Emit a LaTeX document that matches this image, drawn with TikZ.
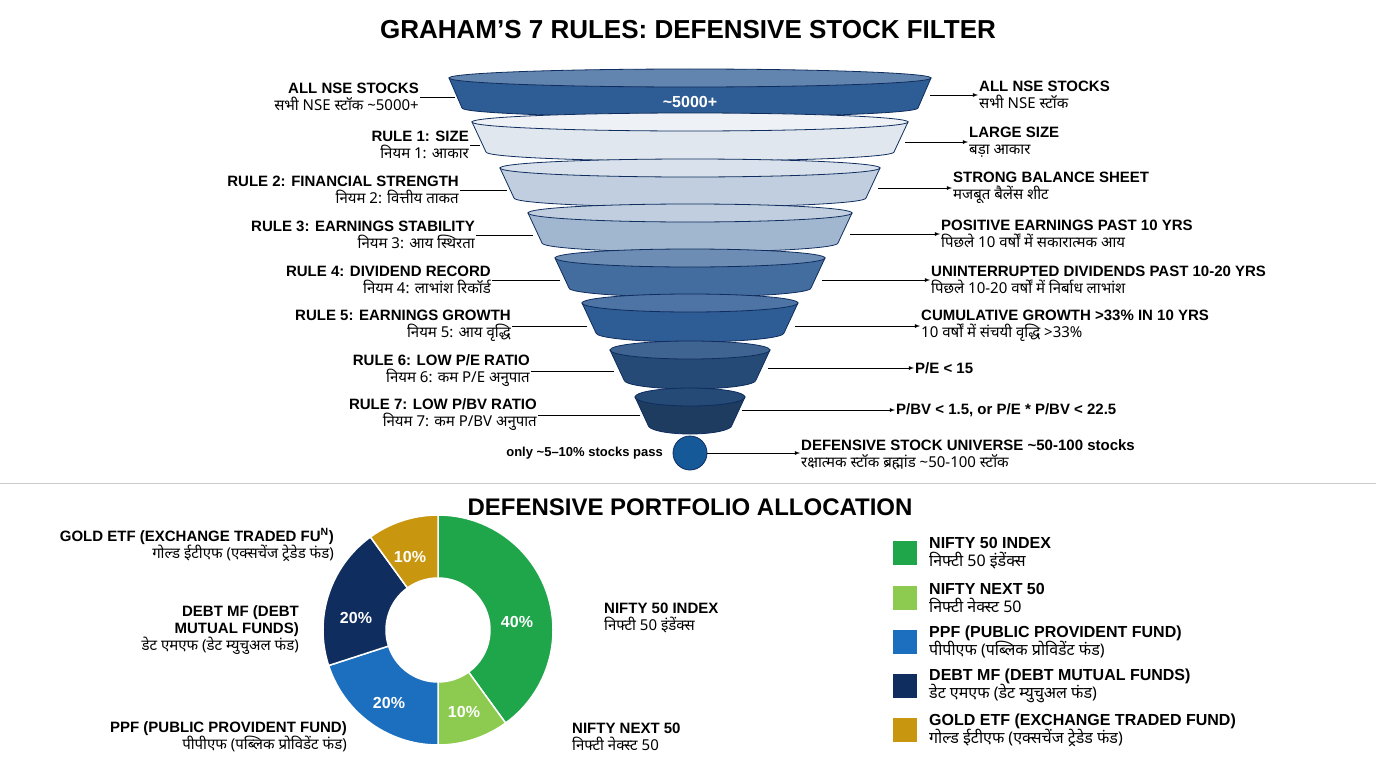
\documentclass[tikz,border=0pt]{standalone}
\usepackage{fontspec}
\setmainfont{Liberation Sans}
\newfontfamily\hindi[Script=Devanagari]{Noto Sans}
\definecolor{fdark}{HTML}{2E5C94}
\definecolor{ngreen}{HTML}{1FA64A}
\definecolor{nlight}{HTML}{8CCB4F}
\definecolor{pblue}{HTML}{1C6FBF}
\definecolor{dnavy}{HTML}{0F2D5E}
\definecolor{ggold}{HTML}{C9960F}
\tikzset{
  lbl/.style={font=\fontsize{15}{17}\selectfont\bfseries, inner sep=1pt},
  lleft/.style={lbl, anchor=east, align=right},
  lright/.style={lbl, anchor=west, align=left},
  conn/.style={line width=0.8pt},
  arr/.style={conn, -latex},
  pct/.style={font=\fontsize{16}{18}\selectfont\bfseries, text=white},
}
% layer: y-top, half width top, y-bottom, half width bottom, side fill, top fill
\newcommand{\funnellayer}[6]{%
  \filldraw[fill=#5, draw=dnavy, line width=0.8pt] (690-#2,#1) -- (690-#4,#3)
    arc[start angle=180, end angle=0, x radius=#4, y radius=9] -- (690+#2,#1) -- cycle;
  \filldraw[fill=#6, draw=dnavy, line width=0.8pt] (690,#1) ellipse[x radius=#2, y radius=9];
}
\begin{document}
\begin{tikzpicture}[x=1pt, y=-1pt]
  \useasboundingbox (0,0) rectangle (1376,768);

  % Titles
  \node[font=\fontsize{26}{28}\selectfont\bfseries] (title) at (688,30) {GRAHAM’S 7 RULES: DEFENSIVE STOCK FILTER};
  \node[font=\fontsize{24}{26}\selectfont\bfseries] (title2) at (690,507) {DEFENSIVE PORTFOLIO ALLOCATION};
  \draw[gray!40, line width=1pt] (0,483) -- (1376,483);

  % Funnel
  \funnellayer{78}{241}{108}{228}{fdark}{fdark!75!white}
  \funnellayer{122}{218}{152}{204}{fdark!15!white}{fdark!8!white}
  \funnellayer{168}{190}{198}{176}{fdark!30!white}{fdark!18!white}
  \funnellayer{213}{162}{243}{148}{fdark!45!white}{fdark!30!white}
  \funnellayer{258}{135}{288}{121}{fdark!90!white}{fdark!70!white}
  \funnellayer{303}{108}{333}{94}{fdark}{fdark!85!white}
  \funnellayer{350}{80}{380}{66}{fdark!80!black}{fdark!90!black!90!white}
  \funnellayer{397}{55}{425}{42}{fdark!65!black}{fdark!80!black}
  \node[font=\fontsize{16}{18}\selectfont\bfseries, text=white] (n5000) at (690,102) {\textasciitilde 5000+};
  \node[circle, fill=pblue!80!black, draw=dnavy, line width=0.8pt, minimum size=34pt] (pass) at (690,453) {};

  % Points on funnel edges
  \coordinate (l0) at (455,98);  \coordinate (r0) at (930,95);
  \coordinate (l1) at (480,145); \coordinate (r1) at (905,142);
  \coordinate (l2) at (507,190); \coordinate (r2) at (878,188);
  \coordinate (l3) at (533,235); \coordinate (r3) at (850,233);
  \coordinate (l4) at (560,280); \coordinate (r4) at (822,279);
  \coordinate (l5) at (587,324); \coordinate (r5) at (795,324);
  \coordinate (l6) at (614,370); \coordinate (r6) at (768,368);
  \coordinate (l7) at (640,413); \coordinate (r7) at (742,410);

  % Left labels
  \node[lleft] (a0) at (420,97) {ALL NSE STOCKS\\{\hindi सभी NSE स्टॉक \textasciitilde 5000+}};
  \node[lleft] (a1) at (470,145) {RULE 1: SIZE\\{\hindi नियम 1: आकार}};
  \node[lleft] (a2) at (460,190) {RULE 2: FINANCIAL STRENGTH\\{\hindi नियम 2: वित्तीय ताकत}};
  \node[lleft] (a3) at (476,235) {RULE 3: EARNINGS STABILITY\\{\hindi नियम 3: आय स्थिरता}};
  \node[lleft] (a4) at (492,280) {RULE 4: DIVIDEND RECORD\\{\hindi नियम 4: लाभांश रिकॉर्ड}};
  \node[lleft] (a5) at (512,326) {RULE 5: EARNINGS GROWTH\\{\hindi नियम 5: आय वृद्धि}};
  \node[lleft] (a6) at (531,371) {RULE 6: LOW P/E RATIO\\{\hindi नियम 6: कम P/E अनुपात}};
  \node[lleft] (a7) at (538,415) {RULE 7: LOW P/BV RATIO\\{\hindi नियम 7: कम P/BV अनुपात}};
  \node[lleft, font=\fontsize{13}{15}\selectfont\bfseries] (apass) at (664,453) {only \textasciitilde 5–10\% stocks pass};
  \foreach \i in {0,...,7} { \draw[conn] (a\i.east) -- (a\i.east -| l\i); }

  % Right labels
  \node[lright] (b0) at (978,95) {ALL NSE STOCKS\\{\hindi सभी NSE स्टॉक}};
  \node[lright] (b1) at (968,142) {LARGE SIZE\\{\hindi बड़ा आकार}};
  \node[lright] (b2) at (952,188) {STRONG BALANCE SHEET\\{\hindi मजबूत बैलेंस शीट}};
  \node[lright] (b3) at (940,234) {POSITIVE EARNINGS PAST 10 YRS\\{\hindi पिछले 10 वर्षों में सकारात्मक आय}};
  \node[lright] (b4) at (930,280) {UNINTERRUPTED DIVIDENDS PAST 10-20 YRS\\{\hindi पिछले 10-20 वर्षों में निर्बाध लाभांश}};
  \node[lright] (b5) at (920,326) {CUMULATIVE GROWTH >33\% IN 10 YRS\\{\hindi 10 वर्षों में संचयी वृद्धि >33\%}};
  \node[lright] (b6) at (914,368) {P/E < 15};
  \node[lright] (b7) at (895,410) {P/BV < 1.5, or P/E * P/BV < 22.5};
  \node[lright] (bpass) at (800,455) {DEFENSIVE STOCK UNIVERSE \textasciitilde 50-100 stocks\\{\hindi रक्षात्मक स्टॉक ब्रह्मांड \textasciitilde 50-100 स्टॉक}};
  \foreach \i in {0,...,7} { \draw[arr] (b\i.west -| r\i) -- (b\i.west); }
  \draw[arr] (pass) -- (pass -| bpass.west);

  % Donut
  \coordinate (dc) at (438,630);
  \foreach \s/\e/\c in {-90/54/ngreen, 54/90/nlight, 90/162/pblue, 162/234/dnavy, 234/270/ggold} {
    \filldraw[fill=\c, draw=white, line width=1.5pt] (dc) ++(\s:115) arc[start angle=\s, end angle=\e, radius=115]
      -- ++(\e:-63) arc[start angle=\e, end angle=\s, radius=52] -- cycle;
  }
  \node[pct] (p40) at (517,622) {40\%};
  \node[pct] (p10a) at (464,712) {10\%};
  \node[pct] (p20a) at (389,703) {20\%};
  \node[pct] (p20b) at (356,618) {20\%};
  \node[pct] (p10b) at (410,557) {10\%};

  % Donut labels
  \node[lleft] (lgold) at (335,545) {GOLD ETF (EXCHANGE TRADED FU\textsuperscript{N})\\{\hindi गोल्ड ईटीएफ (एक्सचेंज ट्रेडेड फंड)}};
  \node[lleft] (ldebt) at (300,630) {DEBT MF (DEBT\\MUTUAL FUNDS)\\{\hindi डेट एमएफ (डेट म्युचुअल फंड)}};
  \node[lleft] (lppf) at (348,737) {PPF (PUBLIC PROVIDENT FUND)\\{\hindi पीपीएफ (पब्लिक प्रोविडेंट फंड)}};
  \node[lright] (lnifty) at (603,618) {NIFTY 50 INDEX\\{\hindi निफ्टी 50 इंडेंक्स}};
  \node[lright] (lnext) at (571,737) {NIFTY NEXT 50\\{\hindi निफ्टी नेक्स्ट 50}};

  % Legend
  \foreach \y/\c/\t/\h in {553/ngreen/NIFTY 50 INDEX/निफ्टी 50 इंडेंक्स,
      598/nlight/NIFTY NEXT 50/निफ्टी नेक्स्ट 50,
      642/pblue/PPF (PUBLIC PROVIDENT FUND)/पीपीएफ (पब्लिक प्रोविडेंट फंड),
      686/dnavy/DEBT MF (DEBT MUTUAL FUNDS)/डेट एमएफ (डेट म्युचुअल फंड),
      730/ggold/GOLD ETF (EXCHANGE TRADED FUND)/गोल्ड ईटीएफ (एक्सचेंज ट्रेडेड फंड)} {
    \node[fill=\c, minimum size=24pt, inner sep=0pt] (sq\y) at (905,\y) {};
    \node[lright, font=\fontsize{16}{18}\selectfont\bfseries] at (928,\y) {\t\\{\hindi \h}};
  }
\end{tikzpicture}
\end{document}
